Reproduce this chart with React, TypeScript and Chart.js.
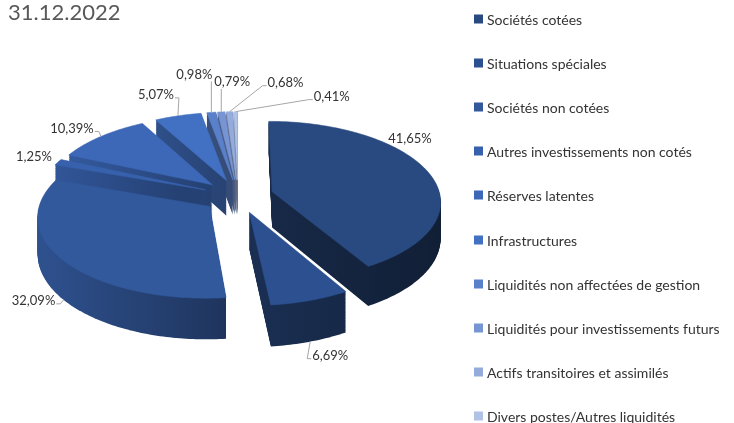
import React, { useEffect, useRef } from 'react';
import { Chart, registerables } from 'chart.js';

Chart.register(...registerables);

// ---- data ----
const TITLE = '31.12.2022';
const categories = [
  'Sociétés cotées',
  'Situations spéciales',
  'Sociétés non cotées',
  'Autres investissements non cotés',
  'Réserves latentes',
  'Infrastructures',
  'Liquidités non affectées de gestion',
  'Liquidités pour investissements futurs',
  'Actifs transitoires et assimilés',
  'Divers postes/Autres liquidités',
];
const shares = [41.65, 6.69, 32.09, 1.25, 10.39, 5.07, 0.98, 0.79, 0.68, 0.41];
const valueLabels = shares.map((v) => v.toFixed(2).replace('.', ',') + '%');

// ---- styles / layout ----
const sliceColors = [
  '#294a80', '#2d5190', '#33599d', '#3761ac', '#3c68b7',
  '#4270c2', '#5a80c9', '#7895d3', '#94abdc', '#b0c2e6',
];
const LABEL_NUDGE: number[][] = [
  [-18, -33], [20, 14], [-30, 1], [-24, -5], [-29, -8],
  [-22, -21], [-17, -38], [11, -30], [56, -29], [96, -15],
];
const LABEL_LEADER = [false, true, true, false, true, true, true, true, true, true];

const CX = 238;
const CY = 196;
const RX = 168;
const RY = 79;
const PERSP = 0.111;
const DEPTH = 36;
const LEGEND_X = 474;
const LEGEND_TOP = 19;
const LEGEND_STEP = 44.1;

function shade(hex: string, f: number): string {
  const n = parseInt(hex.slice(1), 16);
  const r = Math.round(((n >> 16) & 255) * f);
  const g = Math.round(((n >> 8) & 255) * f);
  const b = Math.round((n & 255) * f);
  return `rgb(${Math.min(255, r)},${Math.min(255, g)},${Math.min(255, b)})`;
}

const proj = (u: number, w: number, f = 0): [number, number] => {
  const s = 1 / (1 - w * PERSP);
  return [CX + u * RX * s, CY + w * RY * s + f * DEPTH * s];
};

const pie3d = {
  id: 'pie3d',
  beforeDatasetsDraw(chart: any) {
    const ctx: CanvasRenderingContext2D = chart.ctx;
    const meta = chart.getDatasetMeta(0);
    const slices = meta.data.map((arc: any, i: number) => {
      const p = arc.getProps(['x', 'y', 'startAngle', 'endAngle', 'outerRadius'], true);
      const R = p.outerRadius || 1;
      const off = (arc.options.offset || 0) / R;
      const mid = (p.startAngle + p.endAngle) / 2;
      const ox = Math.cos(mid) * off;
      const oy = Math.sin(mid) * off;
      const span = p.endAngle - p.startAngle;
      const n = Math.max(2, Math.ceil(span / (Math.PI / 180)));
      const pts: number[][] = [[ox, oy]];
      for (let k = 0; k <= n; k++) {
        const t = p.startAngle + (span * k) / n;
        pts.push([ox + Math.cos(t), oy + Math.sin(t)]);
      }
      return { i, pts, ox, oy, mid, color: arc.options.backgroundColor as string };
    });

    const path = (pts: number[][], f: number) => {
      ctx.beginPath();
      pts.forEach(([u, w], k) => {
        const [x, y] = proj(u, w, f);
        if (k) ctx.lineTo(x, y);
        else ctx.moveTo(x, y);
      });
      ctx.closePath();
    };

    ctx.save();
    const order = [...slices].sort((a, b) => a.oy - b.oy);
    const L = 50;
    for (const s of order) {
      const g = ctx.createLinearGradient(CX - RX * 1.15, 0, CX + RX * 1.2, 0);
      g.addColorStop(0, shade(s.color, 0.9));
      g.addColorStop(0.45, shade(s.color, 0.6));
      g.addColorStop(1, shade(s.color, 0.42));
      ctx.fillStyle = g;
      for (let j = L; j >= 1; j--) {
        path(s.pts, j / L);
        ctx.fill();
      }
    }
    for (const s of slices) {
      path(s.pts, 0);
      ctx.fillStyle = s.color;
      ctx.fill();
      ctx.strokeStyle = s.color;
      ctx.lineWidth = 0.6;
      ctx.stroke();
    }

    // data labels
    ctx.font = '13px Lato';
    ctx.textAlign = 'center';
    ctx.textBaseline = 'middle';
    for (const s of slices) {
      const i = s.i;
      const cu = s.ox + Math.cos(s.mid);
      const cw = s.oy + Math.sin(s.mid);
      const [ax, ay] = proj(cu, cw, Math.sin(s.mid) > 0.05 ? 1 : 0);
      const lx = ax + LABEL_NUDGE[i][0];
      const ly = ay + LABEL_NUDGE[i][1];
      const text = valueLabels[i];
      const w = ctx.measureText(text).width;
      if (LABEL_LEADER[i]) {
        const left = lx - w / 2 - 1;
        const right = lx + w / 2 + 1;
        ctx.strokeStyle = '#a6a6a6';
        ctx.lineWidth = 1;
        ctx.beginPath();
        ctx.moveTo(ax, ay);
        if (ax < left) {
          ctx.lineTo(left - 4, ly + 3);
          ctx.lineTo(left, ly + 3);
        } else if (ax > right) {
          ctx.lineTo(right + 4, ly + 3);
          ctx.lineTo(right, ly + 3);
        } else {
          ctx.lineTo(ax, ay > ly ? ly + 7 : ly - 8);
        }
        ctx.stroke();
      }
      ctx.fillStyle = '#333333';
      ctx.fillText(text, lx, ly);
    }
    ctx.restore();
    return false;
  },
};

const sideLegend = {
  id: 'sideLegend',
  afterDraw(chart: any) {
    const ctx: CanvasRenderingContext2D = chart.ctx;
    ctx.save();
    ctx.font = '14px Lato';
    ctx.textAlign = 'left';
    ctx.textBaseline = 'middle';
    (chart.data.labels as string[]).forEach((lab, i) => {
      const y = Math.round(LEGEND_TOP + i * LEGEND_STEP);
      ctx.fillStyle = chart.data.datasets[0].backgroundColor[i];
      ctx.fillRect(LEGEND_X, y - 4.5, 9, 9);
      ctx.fillStyle = '#333333';
      ctx.fillText(lab, LEGEND_X + 13, y + 1);
    });
    ctx.restore();
  },
};

export default function App() {
  const ref = useRef<HTMLCanvasElement | null>(null);
  useEffect(() => {
    document.body.style.margin = '0';
    const canvas = ref.current;
    if (!canvas) return;
    const chart = new Chart(canvas, {
      type: 'pie',
      data: {
        labels: categories,
        datasets: [
          {
            data: shares,
            backgroundColor: sliceColors,
            borderWidth: 0,
            offset: 37,
          },
        ],
      },
      options: {
        responsive: false,
        devicePixelRatio: 1,
        animation: false,
        layout: { padding: { left: 8 } },
        plugins: {
          legend: { display: false },
          tooltip: { enabled: false },
          title: {
            display: true,
            text: TITLE,
            align: 'start',
            color: '#595959',
            font: { family: 'Lato', size: 22, weight: 'normal' },
            padding: { top: 0, bottom: 10 },
          },
        },
      },
      plugins: [pie3d, sideLegend],
    } as any);
    return () => chart.destroy();
  }, []);
  return <canvas ref={ref} width={734} height={423} style={{ display: 'block' }} />;
}
